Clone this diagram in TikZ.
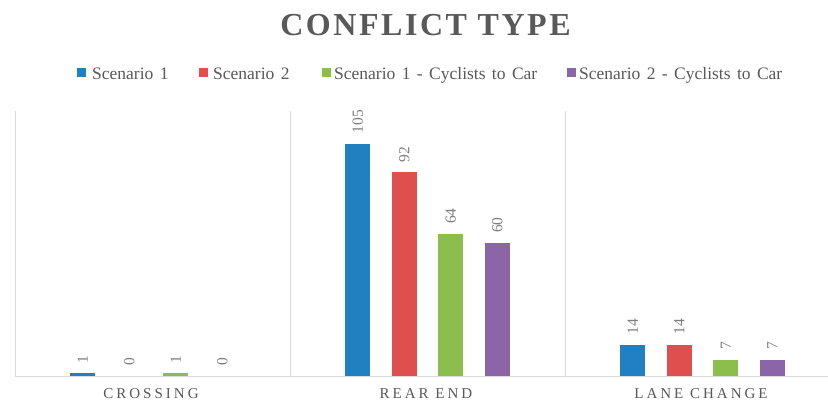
\documentclass[tikz,border=0pt]{standalone}
\usepackage{fontspec}
\setmainfont{Liberation Serif}
\newfontfamily\spacedfont[LetterSpace=20]{Liberation Serif}
\newfontfamily\titlefont[LetterSpace=8]{Liberation Serif}
\newcommand\mylegfont{\fontsize{17.5}{20}\selectfont\spaceskip=6.4pt\relax}
\definecolor{cblue}{HTML}{2180C2}
\definecolor{cred}{HTML}{DE4F4D}
\definecolor{cgreen}{HTML}{8CBE4E}
\definecolor{cpurple}{HTML}{8C64A8}
\definecolor{txtgray}{HTML}{595959}
\definecolor{lblgray}{HTML}{7F7F7F}
\definecolor{linegray}{HTML}{D9D9D9}
\tikzset{
  titletext/.style={inner sep=0pt, anchor=base, text=txtgray, font=\titlefont\bfseries\fontsize{32}{36}\selectfont},
  legtext/.style={inner sep=0pt, anchor=base west, text=txtgray, font=\mylegfont},
  legbox/.style={inner sep=0pt, minimum size=9pt, anchor=north west},
  cattext/.style={inner sep=0pt, anchor=base, text=txtgray, font=\spacedfont\fontsize{15}{18}\selectfont},
  dlabel/.style={inner sep=0pt, anchor=west, rotate=90, text=lblgray, font=\fontsize{15.5}{18}\selectfont},
  axisline/.style={draw=linegray, line width=1pt},
}
\begin{document}
\begin{tikzpicture}[x=1pt,y=-1pt]
\useasboundingbox (0,0) rectangle (828,405);
\fill[white] (0,0) rectangle (828,405);
% title
\node[titletext] (title) at (425.5,35) {CONFLICT TYPE};
% legend
\node[legbox, fill=cblue] (lb1) at (77,68) {};
\node[legtext] (lt1) at (92,79) {Scenario 1};
\node[legbox, fill=cred] (lb2) at (199,68) {};
\node[legtext] (lt2) at (213,79) {Scenario 2};
\node[legbox, fill=cgreen] (lb3) at (322,68) {};
\node[legtext] (lt3) at (334,79) {Scenario 1 - Cyclists to Car};
\node[legbox, fill=cpurple] (lb4) at (567,68) {};
\node[legtext] (lt4) at (579,79) {Scenario 2 - Cyclists to Car};
% axis lines
\draw[axisline] (15,111) -- (15,376);
\draw[axisline] (290,111) -- (290,376);
\draw[axisline] (565,111) -- (565,376);
\draw[axisline] (15,376) -- (828,376);
% bars: center x, value, colour
\foreach \cx/\v/\col [count=\i] in {
  82.75/1/cblue, 129.25/0/cred, 175.75/1/cgreen, 222.25/0/cpurple,
  357.75/105/cblue, 404.25/92/cred, 450.75/64/cgreen, 497.25/60/cpurple,
  632.75/14/cblue, 679.25/14/cred, 725.75/7/cgreen, 772.25/7/cpurple} {
  \pgfmathsetmacro{\top}{375.5-\v*2.2083}
  \ifdim\v pt>0pt
    \fill[\col] (\cx-12.5,375.5) rectangle (\cx+12.5,\top);
  \fi
  \node[dlabel] (d\i) at (\cx,\top-10) {\v};
}
% category labels
\node[cattext] (c1) at (151,398) {CROSSING};
\node[cattext] (c2) at (426,398) {REAR END};
\node[cattext] (c3) at (701,398) {LANE CHANGE};
\end{tikzpicture}
\end{document}
